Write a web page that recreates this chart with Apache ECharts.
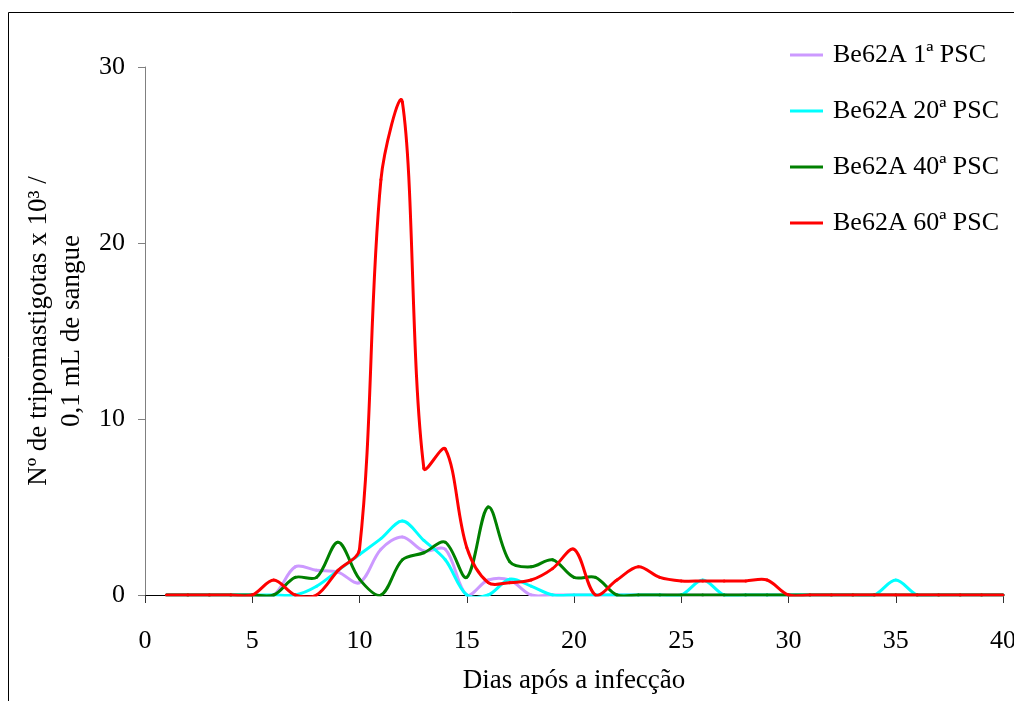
<!DOCTYPE html>
<html>
<head>
<meta charset="utf-8">
<script src="https://cdn.jsdelivr.net/npm/echarts@6/dist/echarts.min.js"></script>
<style>
  html, body { margin: 0; padding: 0; background: #fff; }
  #chart { width: 1014px; height: 701px; }
</style>
</head>
<body>
<div id="chart"></div>
<script>
// dias após a infecção
var dias = [1,2,3,4,5,6,7,8,9,10,11,12,13,14,15,16,17,18,19,20,
            21,22,23,24,25,26,27,28,29,30,31,32,33,34,35,36,37,38,39,40];

// nº de tripomastigotas x 10³ / 0,1 mL
var psc1  = [0,0,0,0,0,0,1.6,1.4,1.3,0.7,2.6,3.3,2.5,2.6,0,0.85,0.85,0,0,0,
             0,0,0,0,0,0,0,0,0,0,0,0,0,0,0,0,0,0,0,0];
var psc20 = [0,0,0,0,0,0,0,0.5,1.4,2.3,3.2,4.2,3.1,2.0,0,0,0.9,0.5,0,0,
             0,0,0,0,0,0.85,0,0,0,0,0,0,0,0,0.85,0,0,0,0,0];
var psc40 = [0,0,0,0,0,0,1.0,1.0,3.0,0.9,0,2.0,2.4,3.0,1.0,5.0,1.9,1.6,2.0,1.0,
             1.0,0,0,0,0,0,0,0,0,0,0,0,0,0,0,0,0,0,0,0];
var psc60 = [0,0,0,0,0,0.85,0,0,1.4,2.6,23.6,28,7.2,8.3,2.7,0.7,0.7,0.85,1.5,2.6,
             0,0.85,1.6,1.0,0.8,0.8,0.8,0.8,0.85,0,0,0,0,0,0,0,0,0,0,0];

var nomes = ['Be62A 1ª PSC', 'Be62A 20ª PSC', 'Be62A 40ª PSC', 'Be62A 60ª PSC'];
var cores = ['#CC99FF', '#00FFFF', '#008000', '#FF0000'];

var fonte = 'Liberation Serif';

function dist(a, b) {
  return Math.sqrt((a[0] - b[0]) * (a[0] - b[0]) + (a[1] - b[1]) * (a[1] - b[1]));
}

// ponto de controle suavizado (ponderado pela distância, como no Excel)
function ctrl(prev, cur, next, lado) {
  var d0 = dist(prev, cur), d1 = dist(cur, next);
  var soma = d0 + d1;
  if (!soma) return cur.slice();
  var f = (lado > 0 ? d1 : d0) / soma / 3 * lado;
  return [cur[0] + (next[0] - prev[0]) * f, cur[1] + (next[1] - prev[1]) * f];
}

function serie(v, i) {
  return {
    name: nomes[i],
    type: 'custom',
    clip: false,
    itemStyle: { color: cores[i] },
    encode: { x: 0, y: 1 },
    data: dias.map(function (d, k) { return [d, v[k]]; }),
    renderItem: function (params, api) {
      var k = params.dataIndex;
      var n = dias.length;
      if (k >= n - 1) return null;
      var p = function (j) {
        j = Math.max(0, Math.min(n - 1, j));
        return api.coord([dias[j], v[j]]);
      };
      var p0 = p(k - 1), p1 = p(k), p2 = p(k + 1), p3 = p(k + 2);
      var c1 = ctrl(p0, p1, p2, 1);
      var c2 = ctrl(p1, p2, p3, -1);
      var cs = params.coordSys;
      return {
        type: 'group',
        // corta o que passa abaixo do zero, como na área do gráfico original
        clipPath: {
          type: 'rect',
          shape: { x: cs.x - 10, y: cs.y - 10, width: cs.width + 20, height: cs.height + 11.5 }
        },
        children: [{
          type: 'bezierCurve',
          shape: {
            x1: p1[0], y1: p1[1], x2: p2[0], y2: p2[1],
            cpx1: c1[0], cpy1: c1[1], cpx2: c2[0], cpy2: c2[1]
          },
          style: { stroke: cores[i], fill: null, lineWidth: 3, lineCap: 'round' }
        }]
      };
    }
  };
}

var chart = echarts.init(document.getElementById('chart'));
chart.setOption({
  backgroundColor: '#fff',
  animation: false,
  textStyle: { fontFamily: fonte },
  graphic: [{
    type: 'rect',
    shape: { x: 8.5, y: 12.5, width: 1200, height: 900 },
    style: { fill: 'none', stroke: '#000', lineWidth: 1 },
    silent: true
  }],
  legend: {
    orient: 'vertical',
    left: 785,
    top: 37,
    itemWidth: 33,
    itemHeight: 3,
    itemGap: 30,
    icon: 'rect',
    textStyle: { fontFamily: fonte, fontSize: 26, color: '#000', padding: [0, 0, 0, 5] },
    data: nomes
  },
  grid: { left: 145, right: 11, top: 67, bottom: 106, outerBoundsMode: 'none' },
  xAxis: {
    type: 'value',
    min: 0,
    max: 40,
    interval: 5,
    name: 'Dias após a infecção',
    nameLocation: 'middle',
    nameGap: 72,
    nameTextStyle: { fontFamily: fonte, fontSize: 27, color: '#000' },
    axisLine: { lineStyle: { color: '#000', width: 1 } },
    axisTick: { length: 8, lineStyle: { color: '#333' } },
    axisLabel: { margin: 33, fontFamily: fonte, fontSize: 26, color: '#000' },
    splitLine: { show: false }
  },
  yAxis: {
    type: 'value',
    min: 0,
    max: 30,
    interval: 10,
    name: 'Nº de tripomastigotas x 10³ /\n0,1 mL de sangue',
    nameLocation: 'middle',
    nameGap: 57,
    nameTextStyle: { fontFamily: fonte, fontSize: 27, color: '#000', lineHeight: 33 },
    axisLine: { show: true, lineStyle: { color: '#808080', width: 1 } },
    axisTick: { show: true, length: 7, lineStyle: { color: '#808080' } },
    axisLabel: { margin: 20, fontFamily: fonte, fontSize: 26, color: '#000' },
    splitLine: { show: false }
  },
  series: [psc1, psc20, psc40, psc60].map(serie)
});
</script>
</body>
</html>
